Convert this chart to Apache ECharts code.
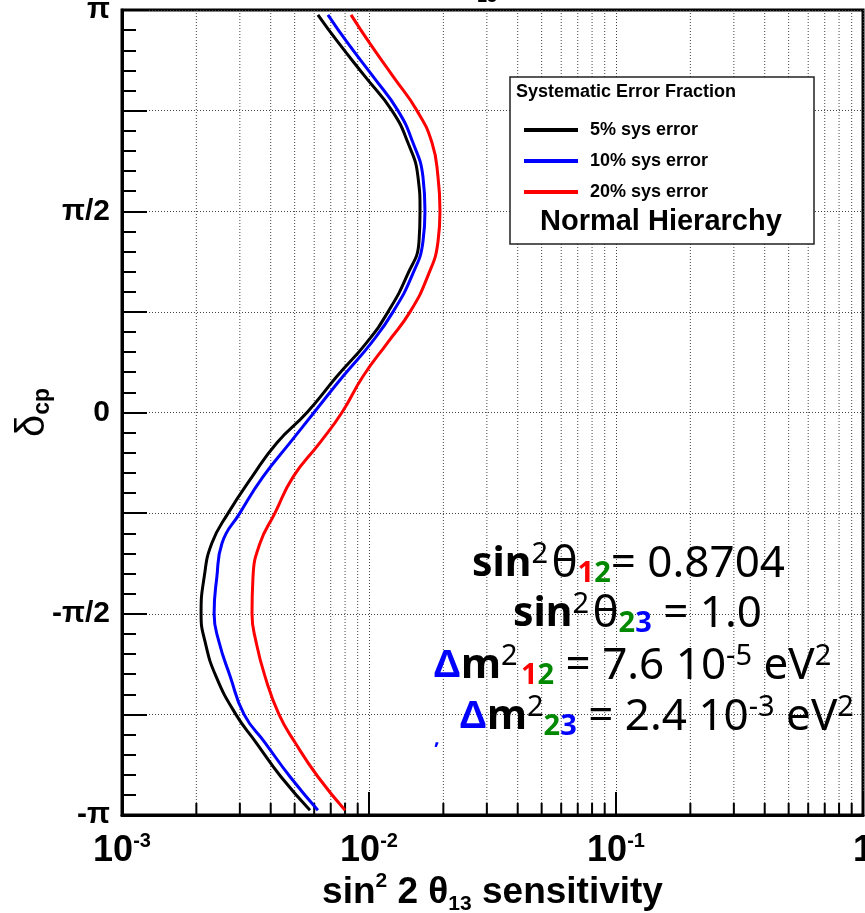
<!DOCTYPE html>
<html>
<head>
<meta charset="utf-8">
<script src="https://cdn.jsdelivr.net/npm/echarts@6/dist/echarts.min.js"></script>
<style>
html,body{margin:0;padding:0;background:#fff;}
#chart{width:865px;height:913px;}
</style>
</head>
<body>
<div id="chart"></div>
<script>
// delta_CP in units of pi
const deltaOverPi = [0.988, 0.92, 0.835, 0.75, 0.67, 0.585, 0.5, 0.425, 0.34, 0.25, 0.175, 0.09, 0, -0.075, -0.16, -0.25, -0.325, -0.41, -0.5, -0.57, -0.655, -0.75, -0.82, -0.905, -0.988];
// sin^2 2theta13 sensitivity
const sys5 = [0.00621, 0.00749, 0.00963, 0.01239, 0.01438, 0.01579, 0.01609, 0.01594, 0.01425, 0.01194, 0.00982, 0.00742, 0.00561, 0.00424, 0.00336, 0.00269, 0.00231, 0.00215, 0.00209, 0.00217, 0.00240, 0.00289, 0.00349, 0.00440, 0.00577];
const sys10 = [0.00682, 0.00815, 0.01038, 0.01310, 0.01507, 0.01654, 0.01685, 0.01654, 0.01493, 0.01251, 0.01028, 0.00785, 0.00599, 0.00479, 0.00372, 0.00300, 0.00254, 0.00242, 0.00236, 0.00247, 0.00274, 0.00312, 0.00379, 0.00479, 0.00621];
const sys20 = [0.00846, 0.01000, 0.01251, 0.01564, 0.01799, 0.01903, 0.01938, 0.01903, 0.01733, 0.01466, 0.01194, 0.00946, 0.00777, 0.00633, 0.00493, 0.00416, 0.00362, 0.00339, 0.00336, 0.00349, 0.00379, 0.00432, 0.00502, 0.00621, 0.00800];
const seriesNames = ['5% sys error', '10% sys error', '20% sys error'];
const seriesColors = ['#000000', '#0000ff', '#ff0000'];
const yTickLabels = {'1': 'π', '0.5': 'π/2', '0': '0', '-0.5': '-π/2', '-1': '-π'};
const minorXTicks = [0.002,0.003,0.004,0.005,0.006,0.007,0.008,0.009,0.02,0.03,0.04,0.05,0.06,0.07,0.08,0.09,0.2,0.3,0.4,0.5,0.6,0.7,0.8,0.9];

const HELV = "'Liberation Sans', Arial, Helvetica, sans-serif";
const COMIC = "'Comic Sans MS', 'Noto Sans', 'DejaVu Sans', sans-serif";

const chart = echarts.init(document.getElementById('chart'));

function mk(vals){ return deltaOverPi.map((d,i)=>[vals[i], d]); }

function richAnn(){
  return {
    b:{fontFamily:COMIC, fontWeight:'bold', fontSize:41, lineHeight:48, fill:'#000', verticalAlign:'middle'},
    n:{fontFamily:COMIC, fontSize:44, lineHeight:48, fill:'#000', verticalAlign:'middle'},
    D:{fontFamily:HELV, fontWeight:'bold', fontSize:39, lineHeight:48, fill:'#0000ff', verticalAlign:'middle'},
    sup:{fontFamily:COMIC, fontSize:29, lineHeight:30, fill:'#000', verticalAlign:'top'},
    r:{fontFamily:COMIC, fontWeight:'bold', fontSize:29, lineHeight:16, fill:'#ff0000', verticalAlign:'bottom'},
    g:{fontFamily:COMIC, fontWeight:'bold', fontSize:29, lineHeight:16, fill:'#008800', verticalAlign:'bottom'},
    bl:{fontFamily:COMIC, fontWeight:'bold', fontSize:29, lineHeight:16, fill:'#0000ff', verticalAlign:'bottom'}
  };
}

const option = {
  animation: false,
  backgroundColor: '#fff',
  grid: {left:122, right:2, top:10, bottom:98, show:true, borderColor:'#000', borderWidth:3, outerBoundsMode:'none', containLabel:false},
  xAxis: {
    type:'log', logBase:10, min:0.001, max:1,
    axisLine:{onZero:false, lineStyle:{color:'#000', width:3}},
    axisTick:{inside:true, length:23, lineStyle:{color:'#000', width:2}},
    splitLine:{show:true, lineStyle:{color:'#444', width:1, type:[1,2]}},
    axisLabel:{
      margin:16, color:'#000', fontFamily:HELV, fontWeight:'bold', fontSize:36, lineHeight:40,
      formatter:function(v){ const e=Math.round(Math.log10(v)); return e===0 ? '1' : '10{sup|'+e+'}'; },
      rich:{ sup:{fontFamily:HELV, fontWeight:'bold', fontSize:20, lineHeight:22, verticalAlign:'top', color:'#000'} }
    },
    name:'sin{sup|2} 2 θ{sub|13} sensitivity',
    nameLocation:'middle', nameGap:56, nameMoveOverlap:false,
    nameTextStyle:{color:'#000', fontFamily:HELV, fontWeight:'bold', fontSize:37, lineHeight:44,
      rich:{
        sup:{fontFamily:HELV, fontWeight:'bold', fontSize:21, lineHeight:26, verticalAlign:'top', color:'#000'},
        sub:{fontFamily:HELV, fontWeight:'bold', fontSize:21, lineHeight:10, verticalAlign:'bottom', color:'#000'}
      }}
  },
  yAxis: {
    type:'value', min:-1, max:1, interval:0.25,
    axisLine:{onZero:false, lineStyle:{color:'#000', width:3}},
    axisTick:{inside:true, length:25, lineStyle:{color:'#000', width:2}},
    minorTick:{show:true, splitNumber:5, length:14, lineStyle:{color:'#000', width:2}},
    splitLine:{show:true, lineStyle:{color:'#444', width:1, type:[1,2]}},
    axisLabel:{
      margin:12, color:'#000', fontFamily:HELV, fontWeight:'bold', fontSize:30,
      formatter:function(v){ const k=String(Math.round(v*100)/100); return yTickLabels[k] !== undefined ? yTickLabels[k] : ''; }
    },
    name:'{d|δ}{s|cp}', nameLocation:'middle', nameGap:68, nameMoveOverlap:false,
    nameTextStyle:{color:'#000', rich:{
      d:{fontFamily:HELV, fontSize:40, lineHeight:42, color:'#000'},
      s:{fontFamily:HELV, fontWeight:'bold', fontSize:23, lineHeight:18, verticalAlign:'bottom', color:'#000'}
    }}
  },
  legend: {
    data: seriesNames, orient:'vertical', left:519, top:116, itemWidth:54, itemHeight:4, itemGap:13,
    icon:'rect', z:20, selectedMode:false,
    textStyle:{fontFamily:HELV, fontWeight:'bold', fontSize:18, color:'#000', padding:[0,0,0,7]}
  },
  series: [
    {type:'custom', silent:true, z:1, data:minorXTicks.map(v=>[v,0]),
     renderItem:function(params, api){
       const x = api.value(0);
       const b = api.coord([x,-1]); const t = api.coord([x,1]);
       return {type:'group', children:[
         {type:'line', shape:{x1:b[0], y1:b[1], x2:t[0], y2:t[1]}, style:{stroke:'#444', lineWidth:1, lineDash:[1,2]}},
         {type:'line', shape:{x1:b[0], y1:b[1], x2:b[0], y2:b[1]-12}, style:{stroke:'#000', lineWidth:2}}
       ]};
     }},
    {name:seriesNames[0], type:'line', data:mk(sys5), showSymbol:false, smooth:0.5, lineStyle:{color:seriesColors[0], width:3}, itemStyle:{color:seriesColors[0]}, z:5},
    {name:seriesNames[1], type:'line', data:mk(sys10), showSymbol:false, smooth:0.5, lineStyle:{color:seriesColors[1], width:3}, itemStyle:{color:seriesColors[1]}, z:5},
    {name:seriesNames[2], type:'line', data:mk(sys20), showSymbol:false, smooth:0.5, lineStyle:{color:seriesColors[2], width:3}, itemStyle:{color:seriesColors[2]}, z:5}
  ],
  graphic: [
    {type:'rect', z:15, shape:{x:510, y:77, width:304, height:167}, style:{fill:'#fff', stroke:'#222', lineWidth:1.5}},
    {type:'text', z:16, left:516, top:83, style:{text:'Systematic Error Fraction', font:"bold 18px 'Liberation Sans', Arial, sans-serif", fill:'#000'}},
    {type:'text', z:16, left:540, top:207, style:{text:'Normal Hierarchy', font:"bold 29px 'Liberation Sans', Arial, sans-serif", fill:'#000'}},
    {type:'text', z:16, left:477, top:-12, style:{text:'13', font:"bold 18px 'Liberation Sans', Arial, sans-serif", fill:'#000'}},
    {type:'text', z:16, left:472, top:540, style:{
      text:'{b|sin}{sup|2} {n|θ}{r|1}{g|2}{n|= 0.8704}', rich:richAnn()}},
    {type:'text', z:16, left:513, top:590, style:{
      text:'{b|sin}{sup|2} {n|θ}{g|2}{bl|3}{n| = 1.0}', rich:richAnn()}},
    {type:'text', z:16, left:433, top:642, style:{
      text:'{D|Δ}{b|m}{sup|2} {r|1}{g|2}{n| = 7.6 10}{sup|-5}{n| eV}{sup|2}', rich:richAnn()}},
    {type:'text', z:16, left:459, top:693, style:{
      text:'{D|Δ}{b|m}{sup|2}{g|2}{bl|3}{n| = 2.4 10}{sup|-3}{n| eV}{sup|2}', rich:richAnn()}},
    {type:'text', z:16, left:434, top:728, style:{text:',', font:"bold 20px 'Noto Sans', sans-serif", fill:'#0000ff'}}
  ]
};

chart.setOption(option);
</script>
</body>
</html>
